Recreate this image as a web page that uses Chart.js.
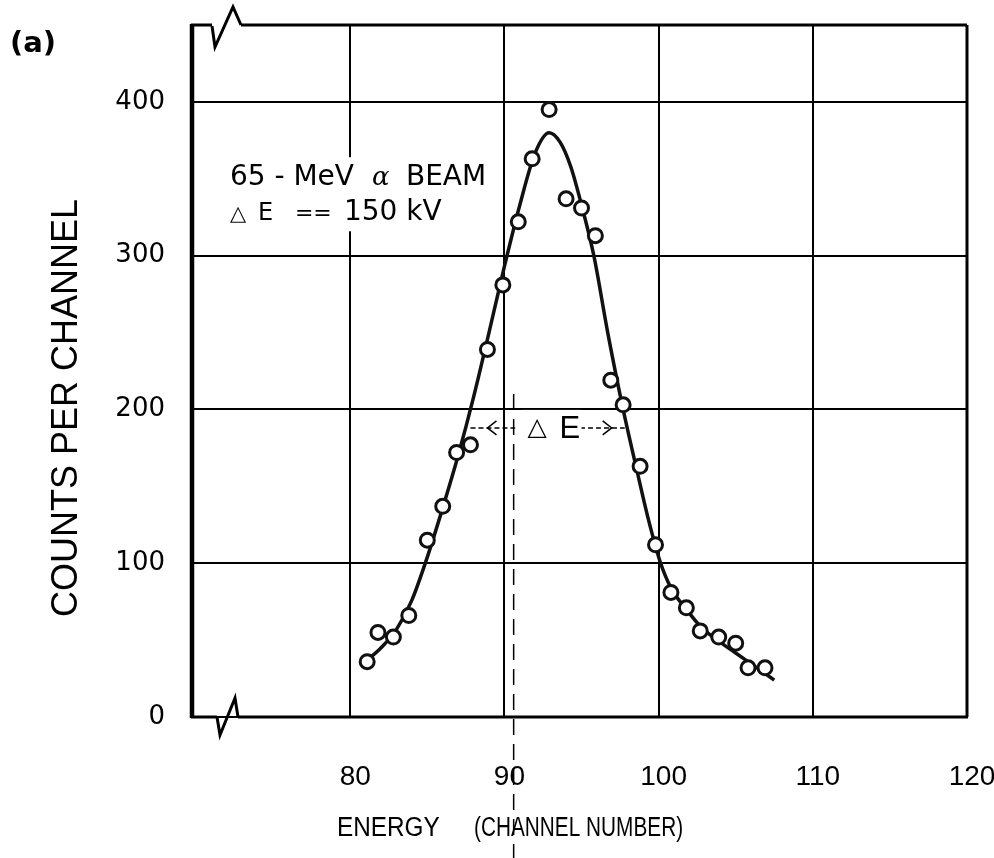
<!DOCTYPE html>
<html>
<head>
<meta charset="utf-8">
<script src="https://cdn.jsdelivr.net/npm/chart.js@4.4.1/dist/chart.umd.min.js"></script>
<style>
  html, body { margin: 0; padding: 0; background: #fff; }
  #wrap { width: 994px; height: 858px; }
</style>
</head>
<body>
<div id="wrap"><canvas id="peak"></canvas></div>
<script>
// axis ticks
const xTicks = [80, 90, 100, 110, 120];
const yTicks = [0, 100, 200, 300, 400];

// measured points (channel, counts)
const channel = [81.1, 81.8, 82.8, 83.8, 85.0, 86.0, 86.9, 87.8, 88.9, 89.9, 90.9, 91.8, 92.9,
                 94.0, 95.0, 95.9, 96.9, 97.7, 98.8, 99.8, 100.8, 101.8, 102.7, 103.9, 105.0, 105.8, 106.9];
const counts  = [36, 55, 52, 66, 115, 137, 172, 177, 239, 281, 322, 363, 395,
                 337, 331, 313, 219, 203, 163, 112, 81, 71, 56, 52, 48, 32, 32];

// fitted curve
const fitChannel = [81, 82, 83, 84, 85, 86, 87, 88, 89, 90, 91, 92, 92.9,
                    93.6, 94.3, 95.0, 95.8, 96.7, 97.7, 98.6, 99.3, 100.1, 100.8, 101.8, 102.8, 103.8, 104.8, 105.8, 106.8, 107.5];
const fitCounts  = [36, 45, 57, 76, 104, 136, 170, 208, 250, 293, 333, 367, 380,
                    374, 358, 333, 300, 250, 200, 160, 130, 101, 84, 70, 58, 50, 43, 36, 29, 24];

// FWHM marker
const halfLevel = 188;
const leftArrow = [87.8, 90.7];
const rightArrow = [94.9, 97.8];
const centreLine = 90.6;

const toXY = (xs, ys) => xs.map((x, i) => ({ x, y: ys[i] }));

const extras = {
  id: 'extras',
  afterDraw(chart) {
    const { ctx, chartArea: a, scales: { x, y } } = chart;
    ctx.save();

    // frame with axis breaks
    ctx.strokeStyle = '#000';
    ctx.lineCap = 'butt';
    ctx.lineWidth = 3;
    ctx.beginPath();
    ctx.moveTo(a.left - 1, a.top); ctx.lineTo(a.left + 20, a.top);
    ctx.moveTo(a.left + 49, a.top); ctx.lineTo(a.right, a.top);
    ctx.moveTo(a.right, a.top); ctx.lineTo(a.right, a.bottom);
    ctx.moveTo(a.left - 1, a.bottom); ctx.lineTo(a.left + 25, a.bottom);
    ctx.moveTo(a.left + 46, a.bottom); ctx.lineTo(a.right + 1, a.bottom);
    ctx.stroke();
    ctx.lineWidth = 4.5;
    ctx.beginPath();
    ctx.moveTo(a.left, a.top - 1); ctx.lineTo(a.left, a.bottom + 1);
    ctx.stroke();

    ctx.lineWidth = 3;
    ctx.beginPath();
    ctx.moveTo(a.left + 20, a.top + 1);
    ctx.lineTo(a.left + 23, a.top + 22);
    ctx.lineTo(a.left + 41, a.top - 18);
    ctx.lineTo(a.left + 49, a.top);
    ctx.moveTo(a.left + 25, a.bottom);
    ctx.lineTo(a.left + 28, a.bottom + 18);
    ctx.lineTo(a.left + 43, a.bottom - 19);
    ctx.lineTo(a.left + 46, a.bottom);
    ctx.stroke();

    // centre line
    ctx.lineWidth = 1.5;
    ctx.setLineDash([16, 9]);
    ctx.beginPath();
    ctx.moveTo(x.getPixelForValue(centreLine), y.getPixelForValue(210));
    ctx.lineTo(x.getPixelForValue(centreLine), chart.height);
    ctx.stroke();

    // ΔE arrows
    const yy = y.getPixelForValue(halfLevel);
    ctx.setLineDash([5, 3]);
    ctx.beginPath();
    ctx.moveTo(x.getPixelForValue(leftArrow[0]), yy);
    ctx.lineTo(x.getPixelForValue(leftArrow[1]), yy);
    ctx.moveTo(x.getPixelForValue(rightArrow[0]), yy);
    ctx.lineTo(x.getPixelForValue(rightArrow[1]), yy);
    ctx.stroke();
    ctx.setLineDash([]);
    const la = x.getPixelForValue(leftArrow[0]) + 17;
    const ra = x.getPixelForValue(rightArrow[1]) - 13;
    ctx.beginPath();
    ctx.moveTo(la + 9, yy - 7); ctx.lineTo(la, yy); ctx.lineTo(la + 9, yy + 7);
    ctx.moveTo(ra - 9, yy - 7); ctx.lineTo(ra, yy); ctx.lineTo(ra - 9, yy + 7);
    ctx.stroke();

    const dx = x.getPixelForValue(91.5);
    ctx.fillStyle = '#fff';
    ctx.fillRect(dx - 6, yy - 18, 60, 36);
    ctx.fillStyle = '#000';
    ctx.textBaseline = 'middle';
    ctx.textAlign = 'left';
    ctx.font = '25px "DejaVu Sans"';
    ctx.fillText('△', dx, yy + 1);
    ctx.font = '31px "Liberation Sans"';
    ctx.fillText('E', dx + 32, yy + 2);

    // beam label
    const lx = x.getPixelForValue(72.2);
    ctx.fillStyle = '#fff';
    ctx.fillRect(lx - 8, y.getPixelForValue(364), 268, 74);
    ctx.fillStyle = '#000';
    ctx.textBaseline = 'alphabetic';
    let by = y.getPixelForValue(346);
    const put = (t, off, f) => { ctx.font = f; ctx.fillText(t, lx + off, by); };
    put('65 - MeV', 0, '28px "DejaVu Sans"');
    put('α', 142, 'italic 26px "DejaVu Serif"');
    put('BEAM', 176, '28px "DejaVu Sans"');
    by = y.getPixelForValue(323);
    put('△', 0, '21px "DejaVu Sans"');
    put('E', 28, '24px "DejaVu Sans"');
    put('==', 65, '22px "DejaVu Sans"');
    put('150 kV', 114, '28px "DejaVu Sans"');

    // axis titles
    ctx.font = '36px "Liberation Sans"';
    ctx.textAlign = 'center';
    ctx.textBaseline = 'middle';
    ctx.save();
    ctx.translate(67, 408);
    ctx.rotate(-Math.PI / 2);
    ctx.fillText('COUNTS PER CHANNEL', 0, 0);
    ctx.restore();
    ctx.font = '27px "Liberation Sans"';
    ctx.textAlign = 'left';
    const narrow = (t, px, k) => {
      ctx.save();
      ctx.translate(px, 829);
      ctx.scale(k, 1);
      ctx.fillText(t, 0, 0);
      ctx.restore();
    };
    narrow('ENERGY', 337, 0.9);
    narrow('(CHANNEL NUMBER)', 474, 0.77);

    // panel tag
    ctx.font = 'bold 29px "DejaVu Sans"';
    ctx.fillText('(a)', 10, 44);
    ctx.restore();
  }
};

new Chart(document.getElementById('peak'), {
  type: 'scatter',
  data: {
    datasets: [
      {
        label: 'counts',
        data: toXY(channel, counts),
        showLine: false,
        pointRadius: 7,
        pointBorderWidth: 3,
        pointBackgroundColor: '#fff',
        pointBorderColor: '#111',
      },
      {
        label: 'fit',
        data: toXY(fitChannel, fitCounts),
        showLine: true,
        borderColor: '#111',
        borderWidth: 3.5,
        pointRadius: 0,
        cubicInterpolationMode: 'monotone',
      },
    ],
  },
  options: {
    responsive: true,
    maintainAspectRatio: false,
    animation: false,
    layout: { padding: { top: 25, right: 27, left: 0, bottom: 0 } },
    plugins: { legend: { display: false }, tooltip: { enabled: false } },
    scales: {
      x: {
        type: 'linear',
        min: 69.74,
        max: 120,
        afterBuildTicks: (s) => { s.ticks = xTicks.map((v) => ({ value: v })); },
        afterFit: (s) => { s.height = 141; s.paddingLeft = 0; s.paddingRight = 0; },
        grid: { color: '#000', lineWidth: 2, drawTicks: false },
        border: { display: false },
        ticks: {
          padding: 43,
          labelOffset: 5,
          color: '#000',
          font: { family: 'Liberation Sans', size: 28 },
        },
      },
      y: {
        min: 0,
        max: 450,
        afterBuildTicks: (s) => { s.ticks = yTicks.map((v) => ({ value: v })); },
        afterFit: (s) => { s.width = 192; s.paddingTop = 0; s.paddingBottom = 0; },
        grid: { color: '#000', lineWidth: 2, drawTicks: false },
        border: { display: false },
        ticks: {
          padding: 27,
          color: '#000',
          font: { family: 'DejaVu Sans', size: 26 },
        },
      },
    },
  },
  plugins: [extras],
});
</script>
</body>
</html>
